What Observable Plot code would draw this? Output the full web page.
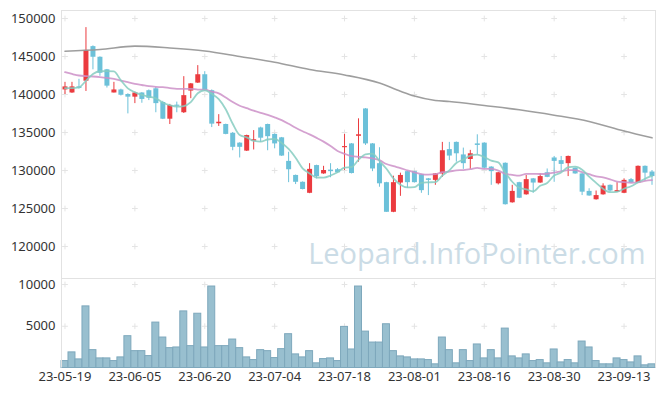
<!DOCTYPE html>
<html><head><meta charset="utf-8">
<script src="https://cdn.jsdelivr.net/npm/d3@7"></script>
<script src="https://cdn.jsdelivr.net/npm/@observablehq/plot@0.6"></script>
<style>
body{margin:0;background:#fff;}
#chart{width:665px;height:396px;position:relative;}
#chart svg{display:block;}
#chart svg.vol{margin-top:-10px;position:relative;}
</style></head><body><div id="chart"></div>
<script>
const dates = ["23-05-19","23-05-22","23-05-23","23-05-24","23-05-25","23-05-26","23-05-30","23-05-31","23-06-01","23-06-02",
"23-06-05","23-06-07","23-06-08","23-06-09","23-06-12","23-06-13","23-06-14","23-06-15","23-06-16","23-06-19",
"23-06-20","23-06-21","23-06-22","23-06-23","23-06-26","23-06-27","23-06-28","23-06-29","23-06-30","23-07-03",
"23-07-04","23-07-05","23-07-06","23-07-07","23-07-10","23-07-11","23-07-12","23-07-13","23-07-14","23-07-17",
"23-07-18","23-07-19","23-07-20","23-07-21","23-07-24","23-07-25","23-07-26","23-07-27","23-07-28","23-07-31",
"23-08-01","23-08-02","23-08-03","23-08-04","23-08-07","23-08-08","23-08-09","23-08-10","23-08-11","23-08-14",
"23-08-16","23-08-17","23-08-18","23-08-21","23-08-22","23-08-23","23-08-24","23-08-25","23-08-28","23-08-29",
"23-08-30","23-08-31","23-09-01","23-09-04","23-09-05","23-09-06","23-09-07","23-09-08","23-09-11","23-09-12",
"23-09-13","23-09-14","23-09-15","23-09-18","23-09-19"];

const opens = [140600,140200,141000,141750,146300,144900,143250,140200,140600,140000,
139650,140200,140500,140750,138950,136750,138600,137600,140450,141500,
142600,140500,136150,136050,134900,133600,132550,133850,135600,136050,
134750,134300,131200,129350,128450,127000,130650,129550,130050,130100,
133000,133500,134500,138100,133500,130900,128400,124500,128350,129850,
129850,129450,128900,128700,129550,132750,133700,132050,131450,133500,
133600,130450,128250,130950,125750,128400,126800,128900,128350,129700,
131650,131300,130900,130300,129550,127250,126150,126800,128050,127150,
127000,128800,128350,130550,129800];

const highs = [141600,141600,142000,148800,146400,144950,143300,141600,140700,140100,
140300,140250,140600,140950,139100,138700,139000,142350,141450,143800,
143000,140600,137350,136100,135000,133650,134650,135250,135700,136100,
134800,134350,132400,129400,128500,130900,130700,130550,130900,130250,
134750,133550,136800,138150,133550,133000,128450,129250,129650,129900,
129900,129500,128950,129600,133700,133700,133750,132950,132650,134700,
133650,130500,129750,131000,128050,128450,129350,128950,129550,130200,
131850,131850,131900,130350,129600,127600,127300,128250,128100,128400,
128900,128950,130600,130600,130000];

const lows = [140000,140150,140700,140400,143250,142400,140850,140200,139800,137450,
138800,138850,139200,137600,136700,136050,137600,137500,139450,141450,
140400,135650,135800,134700,132600,131650,132500,132700,133700,132600,
132850,131850,128400,128150,127450,126950,128900,129500,129050,129650,
130000,129550,131100,133300,129850,127800,124500,124450,126600,127650,
128350,127000,126700,128050,129100,131300,131100,130150,130150,132050,
130250,128050,128100,125450,125700,126300,126750,127000,128300,129050,
128450,129800,129200,129500,126700,126600,126100,126750,127150,127100,
126950,128300,128300,128600,128050];

const closes = [141000,141000,140800,145800,144900,142800,141100,140600,139900,139650,
140200,139350,139500,138800,136750,138550,138450,139850,141400,142600,
140500,136100,136350,134750,133050,133050,134600,134050,134250,134450,
133500,131900,130100,128450,127500,130150,129200,130000,129850,129700,
133150,129600,134700,133500,130200,128250,124500,128400,129350,128400,
128400,127350,128700,129550,132600,131900,132200,130900,132200,133300,
130300,129850,129700,125500,127250,126350,128800,128350,129200,129100,
131200,130800,131850,129550,127150,126650,126700,127950,127300,127350,
128700,128350,130550,129650,129200];

const volumes = [830,1870,1030,7380,2140,1150,1150,830,1270,3810,
2020,2020,1430,5440,3650,2380,2460,6780,2620,6500,
2460,9760,2620,2620,3410,2380,1270,950,2140,2020,
1190,2260,4050,1630,1270,2020,560,1070,1150,830,
4920,2220,9760,4360,3050,3050,5240,2020,1390,1270,
1030,1030,950,440,3650,2140,560,2140,830,2820,
1150,2140,1150,4720,1390,1150,1630,830,950,560,
2220,670,950,560,3170,2460,830,440,440,1150,
950,670,1390,320,440];

const ma5Head = [140850,140850,140950,141800];
const ma20Head = [142940,142700,142500,142420,142370,142300,142200,142050,141840,141620,
141410,141250,141090,141000,140960,140850,140750,140750,140750];
const ma60Index = [0,5,10,15,20,25,30,35,40,45,48,50,53,55,60,65,70,75,80,84];
const ma60Values = [145700,145920,146360,146120,145720,145000,144250,143290,142570,141510,
140430,139800,139210,139080,138550,137990,137280,136450,135200,134300];

const priceTicks = [120000,125000,130000,135000,140000,145000,150000];
const volumeTicks = [5000,10000];
const dateTickIndex = [0,10,20,30,40,50,60,70,80];
const watermark = "Leopard.InfoPointer.com";

const rows = dates.map((d, i) => ({
  i, date: d, open: opens[i], high: highs[i], low: lows[i], close: closes[i], volume: volumes[i],
  up: closes[i] >= opens[i]
}));
const ma5 = rows.map((r, i) => ({i, v: i < 4 ? ma5Head[i] : d3.mean(closes.slice(i - 4, i + 1))}));
const ma20 = rows.map((r, i) => ({i, v: i < 19 ? ma20Head[i] : d3.mean(closes.slice(i - 19, i + 1))}));
const ma60 = ma60Index.map((idx, k) => ({i: idx, v: ma60Values[k]}));

const RED = "#eb3b3f", BLUE = "#6cc1d9";
const xDomain = [-0.5, dates.length - 0.5];
const font = {fontFamily: "'Noto Sans', sans-serif", fontSize: "13px", color: "#333", background: "transparent", overflow: "visible"};

const crossesPrice = dateTickIndex.flatMap(i => priceTicks.map(p => ({i, p})));
const crossesVol = dateTickIndex.flatMap(i => volumeTicks.map(p => ({i, p})));

const price = Plot.plot({
  width: 665, height: 278, marginTop: 10, marginBottom: 0, marginLeft: 61, marginRight: 10,
  style: font,
  x: {type: "linear", domain: xDomain, axis: null},
  y: {domain: [115790, 151053], ticks: priceTicks, tickSize: 0, tickPadding: 6, label: null, tickFormat: d => String(d)},
  marks: [
    Plot.dot(crossesPrice, {x: "i", y: "p", symbol: "plus", r: 2, stroke: "#e4e4e4", strokeWidth: 1}),
    Plot.text([watermark], {frameAnchor: "bottom-right", dx: -10, dy: -15, fontSize: 29, fill: "#cbdce6", fontFamily: "'Open Sans', sans-serif"}),
    Plot.ruleX(rows, {x: "i", y1: "low", y2: "high", stroke: d => d.up ? RED : BLUE, strokeWidth: 1}),
    Plot.ruleX(rows, {x: "i", y1: "open", y2: "close", stroke: d => d.up ? RED : BLUE, strokeWidth: 5}),
    Plot.line(ma60, {x: "i", y: "v", stroke: "#999", strokeWidth: 1.6, curve: "monotone-x", strokeOpacity: 0.95}),
    Plot.line(ma20, {x: "i", y: "v", stroke: "#cc90c8", strokeWidth: 1.8, curve: "monotone-x", strokeOpacity: 0.85}),
    Plot.line(ma5, {x: "i", y: "v", stroke: "#86ccc1", strokeWidth: 1.8, curve: "monotone-x", strokeOpacity: 0.85}),
    Plot.frame({stroke: "#e2e2e2"})
  ]
});

const volume = Plot.plot({
  width: 665, height: 128, marginTop: 10, marginBottom: 28.5, marginLeft: 61, marginRight: 10,
  style: font,
  className: "vol",
  x: {type: "linear", domain: xDomain, ticks: dateTickIndex, tickFormat: i => dates[i], tickSize: 0, tickPadding: 4, label: null},
  y: {domain: [0, 10720], ticks: volumeTicks, tickSize: 0, tickPadding: 6, label: null, tickFormat: d => String(d)},
  marks: [
    Plot.dot(crossesVol, {x: "i", y: "p", symbol: "plus", r: 2, stroke: "#e4e4e4", strokeWidth: 1}),
    Plot.rectY(rows, {x1: d => d.i - 0.5, x2: d => d.i + 0.5, y: "volume", fill: "#98bfcf", stroke: "#7ea8bc", strokeWidth: 1}),
    Plot.ruleX(xDomain, {stroke: "#e2e2e2"})
  ]
});
volume.classList.add("vol");

document.getElementById("chart").append(price, volume);
</script></body></html>
